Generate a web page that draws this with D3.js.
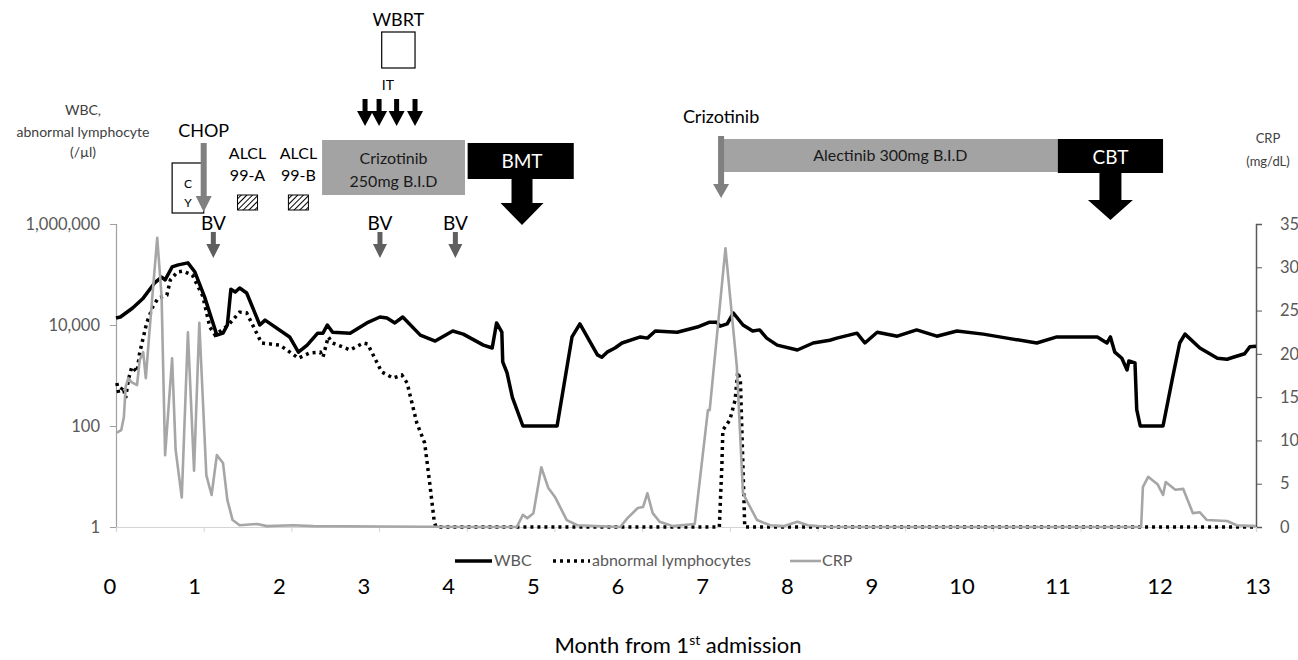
<!DOCTYPE html>
<html>
<head>
<meta charset="utf-8">
<script src="https://cdn.jsdelivr.net/npm/d3@7"></script>
<style>
  body { margin: 0; background: #fff; }
  svg { display: block; }
  text { font-family: Lato, "Open Sans", sans-serif; }
</style>
</head>
<body>
<svg id="chart" width="1298" height="660"></svg>
<script>
// months from 1st admission, value
const wbc = [
  [0.00,13800],[0.05,14400],[0.19,21700],[0.31,34000],[0.44,68000],[0.52,89000],[0.56,78000],
  [0.64,141000],[0.71,155000],[0.82,170000],[0.90,112000],[1.01,36000],[1.15,6300],[1.22,6900],
  [1.27,10000],[1.31,51000],[1.36,45000],[1.41,54000],[1.49,43000],[1.64,10000],[1.70,12500],
  [1.98,5800],[2.08,2900],[2.18,4000],[2.30,6900],[2.36,6900],[2.41,10000],[2.47,7200],
  [2.67,6900],[2.86,11000],[3.01,14400],[3.09,13800],[3.18,11000],[3.27,14400],[3.47,6300],
  [3.64,4800],[3.84,7600],[3.96,6600],[4.19,4000],[4.29,3500],[4.34,11000],[4.40,7200],
  [4.41,1860],[4.46,1120],[4.52,370],[4.64,100],[5.03,100],[5.20,5800],[5.29,10500],
  [5.49,2560],[5.54,2300],[5.60,2900],[5.69,3500],[5.77,4400],[5.98,5800],[6.06,5500],
  [6.15,7600],[6.40,7200],[6.63,9100],[6.77,11400],[6.85,11400],[6.89,9500],[6.97,10500],
  [7.04,17300],[7.15,10000],[7.26,7600],[7.34,8000],[7.42,5500],[7.54,4000],[7.77,3200],
  [7.95,4400],[8.14,5000],[8.22,5500],[8.45,6900],[8.54,4400],[8.68,7200],[8.91,6000],
  [9.13,8000],[9.36,6000],[9.59,7600],[9.89,6600],[10.16,5500],[10.50,4400],[10.73,5800],
  [11.19,5800],[11.30,4400],[11.34,5800],[11.39,2900],[11.47,2200],[11.53,1290],[11.55,1940],
  [11.62,1780],[11.64,210],[11.68,100],[11.94,100],[12.05,930],[12.13,4400],[12.19,6600],
  [12.36,3500],[12.56,2200],[12.67,2100],[12.74,2300],[12.87,2700],[12.93,3700],[13.00,3800]
];

const lymph = [
  [0.01,710],[0.03,450],[0.08,590],[0.11,360],[0.14,810],[0.18,1480],[0.24,1180],[0.27,2800],
  [0.35,11000],[0.42,23000],[0.48,34000],[0.58,39000],[0.62,78000],[0.70,112000],[0.76,117000],
  [0.87,98000],[0.99,37000],[1.07,9100],[1.13,6300],[1.28,10000],[1.41,18000],[1.49,17300],
  [1.66,4400],[1.87,4000],[2.08,2200],[2.21,2800],[2.33,2900],[2.36,2300],[2.42,5800],
  [2.47,4400],[2.67,3200],[2.82,4400],[2.87,4200],[3.03,1180],[3.16,890],[3.26,1020],
  [3.32,710],[3.43,115],[3.52,46],[3.58,6.8],[3.63,1.25],[3.65,1],[6.88,1],[6.91,18.5],
  [6.92,83],[7.00,132],[7.06,325],[7.09,1180],[7.12,810],[7.15,15],[7.17,1],[13.00,1]
];

const crp = [
  [0.01,10.9],[0.06,11.2],[0.09,12.7],[0.11,16.2],[0.14,17.2],[0.18,16.7],[0.24,16.4],
  [0.27,19.3],[0.31,20.2],[0.34,17.2],[0.38,22.4],[0.47,33.4],[0.52,26.6],[0.56,8.3],
  [0.64,19.5],[0.68,8.9],[0.75,3.4],[0.82,22.5],[0.89,6.5],[0.95,23.6],[1.03,6.0],[1.09,3.7],
  [1.15,8.3],[1.22,7.4],[1.27,3.1],[1.33,0.8],[1.41,0.2],[1.61,0.35],[1.72,0.1],[2.02,0.2],
  [2.25,0.1],[3.00,0.05],[4.15,0],[4.57,0],[4.64,1.4],[4.69,1.0],[4.76,1.6],[4.85,6.9],
  [4.93,4.5],[5.01,3.4],[5.14,0.8],[5.26,0.2],[5.75,0],[5.83,1.0],[5.95,2.2],[6.01,2.3],
  [6.06,3.9],[6.12,1.6],[6.20,0.6],[6.35,0.1],[6.60,0.35],[6.75,13.5],[6.77,13.5],[6.95,32.2],
  [7.08,18.5],[7.15,3.9],[7.20,2.9],[7.31,0.8],[7.46,0.2],[7.61,0.1],[7.77,0.6],[7.89,0.2],
  [8.14,0],[11.69,0],[11.71,4.6],[11.77,5.8],[11.88,4.9],[11.94,3.7],[11.97,5.2],[12.08,4.3],
  [12.17,4.4],[12.28,1.6],[12.36,1.7],[12.44,0.8],[12.67,0.7],[12.78,0.2],[13.00,0.1]
];

const leftTicks = [1, 100, 10000, 1000000];
const rightTicks = [0, 5, 10, 15, 20, 25, 30, 35];
const monthLabels = [0, 1, 2, 3, 4, 5, 6, 7, 8, 9, 10, 11, 12, 13];

// treatment timeline (months)
const bvMonths = [1.11, 3.01, 3.87];
const itMonths = [2.84, 3.0, 3.2, 3.41];
const bars = [
  { from: 2.35, to: 3.98, fill: '#a3a3a3', lines: ['Crizotinib', '250mg B.I.D'] },
  { from: 6.92, to: 10.74, fill: '#a3a3a3', lines: ['Alectinib 300mg B.I.D'] },
];

const svg = d3.select('#chart');
const x = d3.scaleLinear().domain([0, 13]).range([116, 1256]);
const yL = d3.scaleLog().domain([1, 1e6]).range([527, 224]);
const yR = d3.scaleLinear().domain([0, 35]).range([527, 224]);
// the month row under the plot is laid out a bit unevenly
const xLab = d3.scaleLinear().domain([0, 9, 10, 11, 12, 13]).range([110, 872, 962, 1058, 1160, 1258]);

const defs = svg.append('defs');
const pat = defs.append('pattern').attr('id', 'hatch')
  .attr('patternUnits', 'userSpaceOnUse').attr('width', 4).attr('height', 4)
  .attr('patternTransform', 'rotate(45)');
pat.append('rect').attr('width', 4).attr('height', 4).attr('fill', '#fff');
pat.append('line').attr('x1', 0).attr('y1', 0).attr('x2', 0).attr('y2', 4)
  .attr('stroke', '#000').attr('stroke-width', 2);

// axes
const gL = svg.append('g').attr('transform', `translate(${x(0)},0)`)
  .call(d3.axisLeft(yL).tickValues(leftTicks).tickFormat(d3.format(',')).tickSize(6).tickPadding(10));
gL.select('.domain').attr('stroke', '#a0a0a0').attr('stroke-width', 1.2);
gL.selectAll('.tick line').attr('stroke', '#a0a0a0');
gL.selectAll('.tick text').attr('fill', '#595959').style('font-size', '16.5px').style('font-family', 'Lato');

const gR = svg.append('g').attr('transform', `translate(${x(13)},0)`)
  .call(d3.axisRight(yR).tickValues(rightTicks).tickSize(6).tickPadding(18));
gR.select('.domain').attr('stroke', '#595959').attr('stroke-width', 1.5);
gR.selectAll('.tick line').attr('stroke', '#595959');
gR.selectAll('.tick text').attr('fill', '#595959').style('font-size', '16.5px').style('font-family', 'Lato');

const gB = svg.append('g').attr('transform', `translate(0,${yL(1)})`)
  .call(d3.axisBottom(x).ticks(13).tickSize(5).tickFormat(''));
gB.select('.domain').attr('stroke', '#d4d4d4').attr('stroke-width', 1.2);
gB.selectAll('.tick line').attr('stroke', '#d4d4d4');

// series
const lineL = d3.line().x(d => x(d[0])).y(d => yL(d[1]));
const lineR = d3.line().x(d => x(d[0])).y(d => yR(d[1]));

svg.append('path').datum(wbc).attr('d', lineL)
  .attr('fill', 'none').attr('stroke', '#000').attr('stroke-width', 3.5)
  .attr('stroke-linejoin', 'round');
svg.append('path').datum(lymph).attr('d', lineL)
  .attr('fill', 'none').attr('stroke', '#000').attr('stroke-width', 3.5)
  .attr('stroke-dasharray', '3,4');
svg.append('path').datum(crp).attr('d', lineR)
  .attr('fill', 'none').attr('stroke', '#a6a6a6').attr('stroke-width', 2.6)
  .attr('stroke-linejoin', 'round');

// arrow helper: shaft from y0 to y1, head from y1 to tip
function arrow(cx, y0, y1, tip, shaftW, headW, fill) {
  const s = shaftW / 2, h = headW / 2;
  svg.append('path')
    .attr('d', `M${cx - s},${y0}L${cx + s},${y0}L${cx + s},${y1}L${cx + h},${y1}L${cx},${tip}L${cx - h},${y1}L${cx - s},${y1}Z`)
    .attr('fill', fill);
}
function label(t, cx, y, size, fill, anchor) {
  return svg.append('text').attr('x', cx).attr('y', y).attr('text-anchor', anchor || 'middle')
    .attr('fill', fill || '#000').style('font-size', size + 'px').text(t);
}

// axis titles
label('WBC,', 83, 115, 14, '#404040');
label('abnormal lymphocyte', 83, 137, 14, '#404040');
label('(/µl)', 83, 157, 14, '#404040');
label('CRP', 1268, 143, 13, '#404040');
label('(mg/dL)', 1268, 166, 13, '#404040');

// CY box + CHOP
svg.append('rect').attr('x', x(0.64)).attr('y', 163).attr('width', x(1.0) - x(0.64)).attr('height', 50)
  .attr('fill', '#fff').attr('stroke', '#000').attr('stroke-width', 1.2);
label('C', x(0.82), 188, 12);
label('Y', x(0.82), 207, 12);
label('CHOP', x(1.0), 137, 18);
arrow(x(1.0), 143, 196, 212, 6, 16, '#808080');

// ALCL 99-A / 99-B
[[1.5, '99-A'], [2.08, '99-B']].forEach(([m, t]) => {
  label('ALCL', x(m), 159, 16);
  label(t, x(m), 181, 16);
  svg.append('rect').attr('x', x(m) - 10).attr('y', 195).attr('width', 20).attr('height', 15)
    .attr('fill', 'url(#hatch)').attr('stroke', '#000').attr('stroke-width', 1);
});

// BV
bvMonths.forEach(m => {
  label('BV', x(m), 230, 19);
  arrow(x(m), 232, 244, 258, 5, 14, '#5f5f5f');
});

// drug bars
bars.forEach(b => {
  const top = b.lines.length > 1 ? 140 : 139;
  const h = b.lines.length > 1 ? 55 : 33;
  svg.append('rect').attr('x', x(b.from)).attr('y', top).attr('width', x(b.to) - x(b.from)).attr('height', h)
    .attr('fill', b.fill);
  const cx = (x(b.from) + x(b.to)) / 2;
  if (b.lines.length > 1) {
    label(b.lines[0], cx, 164, 16, '#1a1a1a');
    label(b.lines[1], cx, 187, 16, '#1a1a1a');
  } else {
    label(b.lines[0], cx, 161, 16, '#1a1a1a');
  }
});

// IT + WBRT
label('WBRT', (x(3.03) + x(3.41)) / 2, 26, 18);
svg.append('rect').attr('x', x(3.03)).attr('y', 32).attr('width', x(3.41) - x(3.03)).attr('height', 36)
  .attr('fill', '#fff').attr('stroke', '#000').attr('stroke-width', 1.2);
label('IT', x(3.1), 90, 14);
itMonths.forEach(m => arrow(x(m), 99, 111, 126, 5, 16, '#000'));

// BMT
svg.append('rect').attr('x', x(4.01)).attr('y', 143).attr('width', x(5.22) - x(4.01)).attr('height', 36).attr('fill', '#000');
label('BMT', x(4.63), 168, 19, '#fff');
arrow(x(4.63), 178, 203, 225, 21, 43, '#000');

// Crizotinib (2nd) + CBT
label('Crizotinib', x(6.9), 123, 18);
arrow(x(6.9), 136, 184, 198, 6, 16, '#808080');
svg.append('rect').attr('x', x(10.74)).attr('y', 139).attr('width', x(11.94) - x(10.74)).attr('height', 34).attr('fill', '#000');
label('CBT', x(11.34), 164, 19, '#fff');
arrow(x(11.34), 172, 200, 220, 22, 45, '#000');

// legend
const lg = svg.append('g');
const legendItems = [
  { x0: 455, x1: 492, tx: 494, t: 'WBC', stroke: '#000', w: 3.5, dash: null },
  { x0: 553, x1: 590, tx: 592, t: 'abnormal lymphocytes', stroke: '#000', w: 3.5, dash: '3,4' },
  { x0: 790, x1: 821, tx: 822, t: 'CRP', stroke: '#a6a6a6', w: 2.6, dash: null },
];
legendItems.forEach(d => {
  lg.append('line').attr('x1', d.x0).attr('x2', d.x1).attr('y1', 561).attr('y2', 561)
    .attr('stroke', d.stroke).attr('stroke-width', d.w).attr('stroke-dasharray', d.dash);
  lg.append('text').attr('x', d.tx).attr('y', 566).attr('fill', '#595959')
    .style('font-size', '16px').text(d.t);
});

// month row
svg.append('g').selectAll('text').data(monthLabels).join('text')
  .attr('x', d => xLab(d)).attr('y', 594).attr('text-anchor', 'middle')
  .style('font-size', '22px').attr('fill', '#000').text(d => d);

const title = svg.append('text').attr('x', 678).attr('y', 653).attr('text-anchor', 'middle')
  .style('font-size', '22px').attr('fill', '#000');
title.append('tspan').text('Month from 1');
title.append('tspan').attr('dy', -8).style('font-size', '14px').text('st');
title.append('tspan').attr('dy', 8).text(' admission');
</script>
</body>
</html>
